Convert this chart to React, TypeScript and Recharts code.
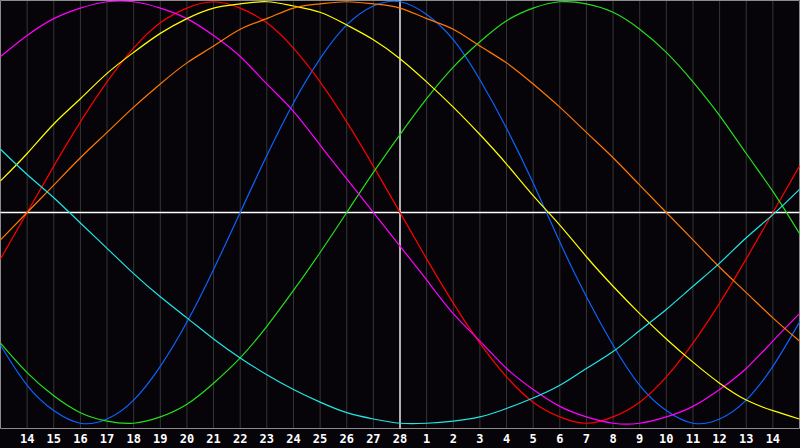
import {
  LineChart,
  Line,
  XAxis,
  YAxis,
  CartesianGrid,
  ReferenceLine,
  ReferenceArea,
} from 'recharts';

// x positions (day index across the window), 0..30
const days = [0, 1, 2, 3, 4, 5, 6, 7, 8, 9, 10, 11, 12, 13, 14, 15, 16, 17, 18, 19, 20, 21, 22, 23, 24, 25, 26, 27, 28, 29, 30];
const tickDays = days.slice(1, 30);
const dayLabels = ['14', '15', '16', '17', '18', '19', '20', '21', '22', '23', '24', '25', '26', '27', '28', '1', '2', '3', '4', '5', '6', '7', '8', '9', '10', '11', '12', '13', '14'];
const today = 15;

// cycle values in percent
const physical = [-63, -82, -94, -100, -98, -89, -73, -52, -27, 0, 27, 52, 73, 89, 98, 100, 94, 82, 63, 40, 14, -14, -40, -63, -82, -94, -100, -98, -89, -73, -52];
const emotional = [-22, 0, 22, 43, 62, 78, 90, 97, 100, 97, 90, 78, 62, 43, 22, 0, -22, -43, -62, -78, -90, -97, -100, -97, -90, -78, -62, -43, -22, 0, 22];
const intellectual = [-62, -76, -87, -95, -99, -100, -97, -91, -81, -69, -54, -37, -19, 0, 19, 37, 54, 69, 81, 91, 97, 100, 99, 95, 87, 76, 62, 46, 28, 10, -10];
const intuitive = [74, 84, 92, 97, 100, 100, 97, 92, 84, 74, 61, 48, 32, 16, 0, -16, -32, -48, -61, -74, -84, -92, -97, -100, -100, -97, -92, -84, -74, -61, -48];
const aesthetic = [15, 28, 42, 54, 66, 76, 85, 92, 97, 99, 100, 98, 95, 89, 82, 73, 62, 50, 37, 23, 8, -6, -21, -35, -48, -60, -71, -81, -89, -94, -98];
const awareness = [-13, 0, 13, 26, 38, 50, 61, 71, 79, 87, 92, 97, 99, 100, 99, 97, 92, 87, 79, 71, 61, 50, 38, 26, 13, 0, -13, -26, -38, -50, -61];
const spiritual = [30, 18, 7, -5, -17, -29, -40, -50, -60, -69, -77, -84, -90, -95, -98, -100, -100, -99, -97, -93, -88, -82, -74, -66, -56, -46, -35, -24, -12, -1, 11];

const series = [
  { key: 'physical', color: '#0a64ff' },
  { key: 'emotional', color: '#ff0000' },
  { key: 'intellectual', color: '#22e01a' },
  { key: 'intuitive', color: '#ff00ff' },
  { key: 'aesthetic', color: '#ffff00' },
  { key: 'awareness', color: '#ff7800' },
  { key: 'spiritual', color: '#20e6e6' },
];

const data = days.map((d, i) => ({
  day: d,
  physical: physical[i],
  emotional: emotional[i],
  intellectual: intellectual[i],
  intuitive: intuitive[i],
  aesthetic: aesthetic[i],
  awareness: awareness[i],
  spiritual: spiritual[i],
}));

const Y_MIN = -102.5;
const Y_MAX = 100.6;

export default function App() {
  return (
    <div style={{ position: 'absolute', left: 0, top: 0, width: 800, height: 448, background: '#060409' }}>
      <LineChart
        width={800}
        height={448}
        data={data}
        margin={{ top: 0.5, right: 0.5, left: 0.5, bottom: 0 }}
      >
        <CartesianGrid horizontal={false} stroke="#363636" strokeWidth={1} />
        <XAxis
          dataKey="day"
          type="number"
          domain={[0, 30]}
          ticks={tickDays}
          interval={0}
          height={19.5}
          axisLine={false}
          tickLine={false}
          tickSize={6}
          tickMargin={0}
          tickFormatter={(v: number) => dayLabels[v - 1]}
          tick={{ fill: '#ffffff', fontSize: 12, fontWeight: 'bold', fontFamily: 'DejaVu Sans Mono' }}
        />
        <YAxis hide type="number" domain={[Y_MIN, Y_MAX]} allowDataOverflow />
        <ReferenceArea
          x1={0}
          x2={30}
          y1={Y_MIN}
          y2={Y_MAX}
          fill="none"
          stroke="#8c8c8c"
          ifOverflow="visible"
        />
        <ReferenceLine y={0} stroke="#ffffff" strokeWidth={1.3} />
        <ReferenceLine x={today} stroke="#ffffff" strokeWidth={1.3} />
        {series.map((s) => (
          <Line
            key={s.key}
            type="natural"
            dataKey={s.key}
            stroke={s.color}
            strokeWidth={1.2}
            dot={false}
            activeDot={false}
            isAnimationActive={false}
          />
        ))}
      </LineChart>
    </div>
  );
}
